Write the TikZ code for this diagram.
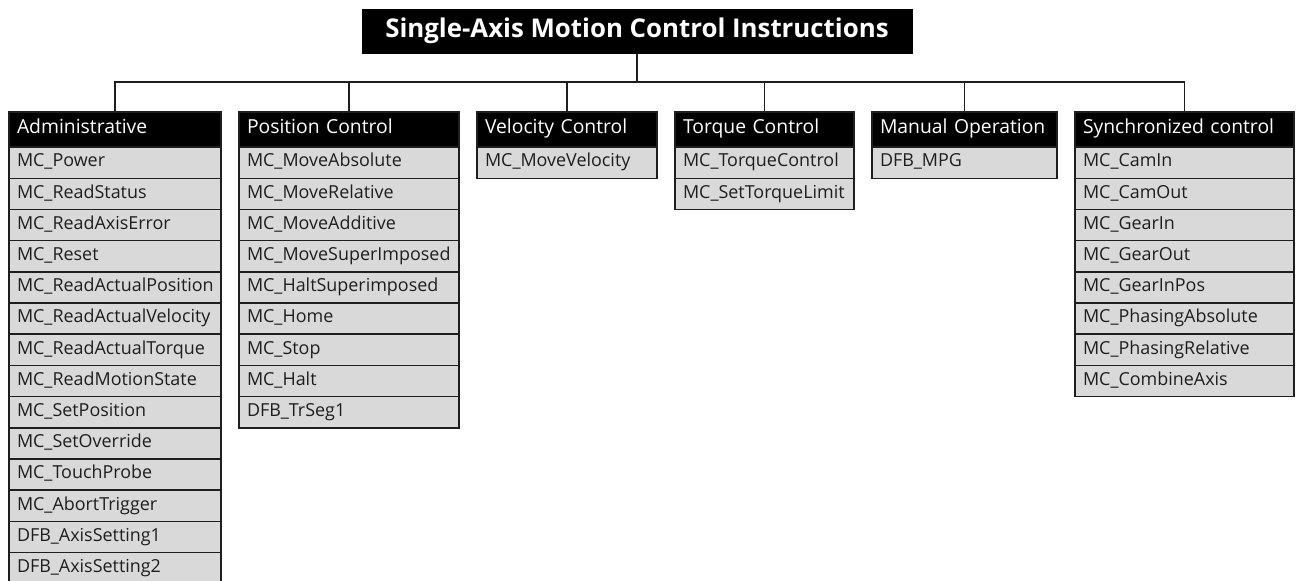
\documentclass[tikz,border=0pt]{standalone}
\usepackage{fontspec}
\setmainfont{Open Sans}
\usepackage{xcolor}
\usepackage{tikz}
\usetikzlibrary{positioning}
\definecolor{isiabu}{RGB}{217, 217, 217}
\definecolor{garis}{RGB}{30, 30, 30}

\begin{document}
\begin{tikzpicture}[
    font=\fontsize{10.2}{12}\selectfont,
    judul/.style={draw=black, fill=black, text=white, minimum width=11cm,
                  minimum height=0.88cm, font=\fontsize{14.7}{17}\selectfont\bfseries},
    kepala/.style={draw=garis, fill=black, text=white, line width=0.8pt, outer sep=0pt,
                   minimum height=0.70cm, text width=#1, inner xsep=0.16cm, align=left,
                   text height=0.75em, text depth=0.25em, font=\fontsize{11}{13}\selectfont},
    butir/.style={draw=garis, fill=isiabu, text=garis, line width=0.8pt, outer sep=0pt,
                  minimum height=0.624cm, text width=#1, inner xsep=0.16cm, align=left,
                  text height=0.75em, text depth=0.25em},
    cabang/.style={draw=garis, line width=0.9pt}
  ]
    \useasboundingbox (0,0) rectangle (26,-11.6);
    \node[judul] (judul) at (12.74,-0.62) {Single-Axis Motion Control Instructions};
    \coordinate (bus) at (12.74,-1.64);

    % Administrative
    \node[kepala=3.92cm, anchor=north] (adm) at (2.30,-2.24) {Administrative};
    \node[butir=3.92cm, below=0pt of adm] (adm1) {MC\_Power};
    \node[butir=3.92cm, below=0pt of adm1] (adm2) {MC\_ReadStatus};
    \node[butir=3.92cm, below=0pt of adm2] (adm3) {MC\_ReadAxisError};
    \node[butir=3.92cm, below=0pt of adm3] (adm4) {MC\_Reset};
    \node[butir=3.92cm, below=0pt of adm4] (adm5) {MC\_ReadActualPosition};
    \node[butir=3.92cm, below=0pt of adm5] (adm6) {MC\_ReadActualVelocity};
    \node[butir=3.92cm, below=0pt of adm6] (adm7) {MC\_ReadActualTorque};
    \node[butir=3.92cm, below=0pt of adm7] (adm8) {MC\_ReadMotionState};
    \node[butir=3.92cm, below=0pt of adm8] (adm9) {MC\_SetPosition};
    \node[butir=3.92cm, below=0pt of adm9] (adm10) {MC\_SetOverride};
    \node[butir=3.92cm, below=0pt of adm10] (adm11) {MC\_TouchProbe};
    \node[butir=3.92cm, below=0pt of adm11] (adm12) {MC\_AbortTrigger};
    \node[butir=3.92cm, below=0pt of adm12] (adm13) {DFB\_AxisSetting1};
    \node[butir=3.92cm, below=0pt of adm13] (adm14) {DFB\_AxisSetting2};

    % Position Control
    \node[kepala=4.08cm, anchor=north] (pos) at (6.98,-2.24) {Position Control};
    \node[butir=4.08cm, below=0pt of pos] (pos1) {MC\_MoveAbsolute};
    \node[butir=4.08cm, below=0pt of pos1] (pos2) {MC\_MoveRelative};
    \node[butir=4.08cm, below=0pt of pos2] (pos3) {MC\_MoveAdditive};
    \node[butir=4.08cm, below=0pt of pos3] (pos4) {MC\_MoveSuperImposed};
    \node[butir=4.08cm, below=0pt of pos4] (pos5) {MC\_HaltSuperimposed};
    \node[butir=4.08cm, below=0pt of pos5] (pos6) {MC\_Home};
    \node[butir=4.08cm, below=0pt of pos6] (pos7) {MC\_Stop};
    \node[butir=4.08cm, below=0pt of pos7] (pos8) {MC\_Halt};
    \node[butir=4.08cm, below=0pt of pos8] (pos9) {DFB\_TrSeg1};

    % Velocity Control
    \node[kepala=3.28cm, anchor=north] (vel) at (11.34,-2.24) {Velocity Control};
    \node[butir=3.28cm, below=0pt of vel] (vel1) {MC\_MoveVelocity};

    % Torque Control
    \node[kepala=3.26cm, anchor=north] (tor) at (15.29,-2.24) {Torque Control};
    \node[butir=3.26cm, below=0pt of tor] (tor1) {MC\_TorqueControl};
    \node[butir=3.26cm, below=0pt of tor1] (tor2) {MC\_SetTorqueLimit};

    % Manual Operation
    \node[kepala=3.38cm, anchor=north] (man) at (19.29,-2.24) {Manual Operation};
    \node[butir=3.38cm, below=0pt of man] (man1) {DFB\_MPG};

    % Synchronized control
    \node[kepala=4.06cm, anchor=north] (sin) at (23.69,-2.24) {Synchronized control};
    \node[butir=4.06cm, below=0pt of sin] (sin1) {MC\_CamIn};
    \node[butir=4.06cm, below=0pt of sin1] (sin2) {MC\_CamOut};
    \node[butir=4.06cm, below=0pt of sin2] (sin3) {MC\_GearIn};
    \node[butir=4.06cm, below=0pt of sin3] (sin4) {MC\_GearOut};
    \node[butir=4.06cm, below=0pt of sin4] (sin5) {MC\_GearInPos};
    \node[butir=4.06cm, below=0pt of sin5] (sin6) {MC\_PhasingAbsolute};
    \node[butir=4.06cm, below=0pt of sin6] (sin7) {MC\_PhasingRelative};
    \node[butir=4.06cm, below=0pt of sin7] (sin8) {MC\_CombineAxis};

    \draw[cabang] (judul.south) -- (bus);
    \draw[cabang] (adm.north) |- (bus);
    \draw[cabang] (pos.north) |- (bus);
    \draw[cabang] (vel.north) |- (bus);
    \draw[cabang] (tor.north) |- (bus);
    \draw[cabang] (man.north) |- (bus);
    \draw[cabang] (sin.north) |- (bus);
  \end{tikzpicture}
\end{document}
